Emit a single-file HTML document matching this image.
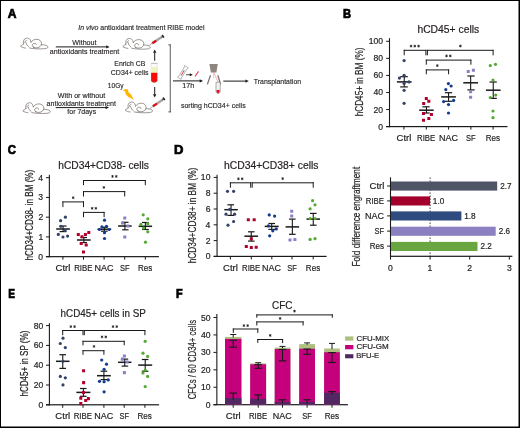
<!DOCTYPE html>
<html><head><meta charset="utf-8"><style>
html,body{margin:0;padding:0;background:#fff;}
body{width:520px;height:428px;overflow:hidden;position:relative;}
svg{position:absolute;left:0;top:0;display:block;will-change:transform;}
svg text{font-family:"Liberation Sans", sans-serif;stroke:#231f20;stroke-width:0.2px;}
svg .pa text{stroke-width:0.15px;}
svg .pl text{stroke:#000;stroke-width:0.7px;}
</style></head><body>
<svg width="520" height="428" viewBox="0 0 520 428" fill="#231f20">
<rect x="0" y="0" width="520" height="428" fill="#fff"/>
<g class="pl">
<text x="7.75" y="17.50" font-size="11.90" textLength="8.72" lengthAdjust="spacingAndGlyphs" font-weight="bold" fill="#000">A</text>
</g>
<g class="pl">
<text x="343.10" y="17.50" font-size="11.90" textLength="8.05" lengthAdjust="spacingAndGlyphs" font-weight="bold" fill="#000">B</text>
</g>
<g class="pl">
<text x="7.69" y="154.10" font-size="11.90" textLength="8.17" lengthAdjust="spacingAndGlyphs" font-weight="bold" fill="#000">C</text>
</g>
<g class="pl">
<text x="173.98" y="154.10" font-size="11.90" textLength="9.42" lengthAdjust="spacingAndGlyphs" font-weight="bold" fill="#000">D</text>
</g>
<g class="pl">
<text x="8.37" y="298.10" font-size="11.90" textLength="6.78" lengthAdjust="spacingAndGlyphs" font-weight="bold" fill="#000">E</text>
</g>
<g class="pl">
<text x="176.12" y="298.00" font-size="11.90" textLength="6.62" lengthAdjust="spacingAndGlyphs" font-weight="bold" fill="#000">F</text>
</g>
<g class="pa">
<text x="78.26" y="29.80" font-size="7.60" textLength="126.21" lengthAdjust="spacingAndGlyphs"><tspan font-style="italic">In vivo</tspan> antioxidant treatment RIBE model</text>
<text x="72.37" y="44.60" font-size="7.60" textLength="24.18" lengthAdjust="spacingAndGlyphs">Without</text>
<text x="49.80" y="53.80" font-size="7.60" textLength="69.45" lengthAdjust="spacingAndGlyphs">antioxidants treatment</text>
<rect x="55.80" y="46.40" width="50.70" height="1.00" fill="#1a1a1a"/>
<polygon points="109.60,46.90 106.20,45.20 106.20,48.60" fill="#1a1a1a"/>
<text x="114.33" y="66.20" font-size="7.60" textLength="31.03" lengthAdjust="spacingAndGlyphs">Enrich CB</text>
<text x="110.85" y="74.60" font-size="7.60" textLength="37.70" lengthAdjust="spacingAndGlyphs">CD34+ cells</text>
<text x="107.80" y="87.80" font-size="7.60" textLength="15.82" lengthAdjust="spacingAndGlyphs">10Gy</text>
<text x="57.87" y="97.50" font-size="7.60" textLength="47.28" lengthAdjust="spacingAndGlyphs">With or without</text>
<text x="46.60" y="105.50" font-size="7.60" textLength="69.35" lengthAdjust="spacingAndGlyphs">antioxidants treatment</text>
<rect x="55.70" y="107.10" width="50.20" height="1.00" fill="#1a1a1a"/>
<polygon points="109.00,107.60 105.60,105.90 105.60,109.30" fill="#1a1a1a"/>
<text x="67.30" y="114.00" font-size="7.60" textLength="28.85" lengthAdjust="spacingAndGlyphs">for 7days</text>
<text x="182.36" y="88.40" font-size="7.60" textLength="11.91" lengthAdjust="spacingAndGlyphs">17h</text>
<text x="180.91" y="108.00" font-size="7.60" textLength="64.75" lengthAdjust="spacingAndGlyphs">sorting hCD34+ cells</text>
<text x="253.85" y="83.50" font-size="7.60" textLength="47.20" lengthAdjust="spacingAndGlyphs">Transplantation</text>
</g>
<rect x="154.20" y="52.50" width="1.00" height="8.30" fill="#1a1a1a"/>
<polygon points="154.70,49.40 153.00,52.80 156.40,52.80" fill="#1a1a1a"/>
<rect x="154.20" y="87.00" width="1.00" height="7.50" fill="#1a1a1a"/>
<polygon points="154.70,97.60 153.00,94.20 156.40,94.20" fill="#1a1a1a"/>
<rect x="173.00" y="80.40" width="27.00" height="1.00" fill="#1a1a1a"/>
<polygon points="203.10,80.90 199.70,79.20 199.70,82.60" fill="#1a1a1a"/>
<rect x="223.30" y="80.60" width="22.40" height="1.00" fill="#1a1a1a"/>
<polygon points="248.80,81.10 245.40,79.40 245.40,82.80" fill="#1a1a1a"/>
<rect x="169.80" y="44.50" width="0.80" height="67.80" fill="#333"/>
<rect x="168.40" y="44.50" width="2.20" height="0.80" fill="#333"/>
<rect x="168.40" y="111.50" width="2.20" height="0.80" fill="#333"/>
<g transform="translate(19.00,36.00) scale(1.0)" fill="none" stroke="#5a504b" stroke-width="0.6" stroke-linecap="round"><path d="M4.6,8.0 C4.0,5.5 4.6,2.6 7.4,2.2 C9.6,1.9 11.4,2.8 12.0,6.2"/><path d="M5.8,6.4 C6.0,5.2 6.6,4.6 7.4,4.4"/><path d="M4.6,8.0 C3.6,8.8 2.4,9.4 1.5,10.2 C2.2,11.0 3.2,11.4 3.8,11.4 C4.6,11.8 5.6,12.1 6.6,12.1"/><path d="M7.0,6.5 C7.4,8.5 8.4,10.0 9.6,10.8"/><path d="M12.0,6.2 C13.0,4.4 15.4,3.2 17.8,3.3 C20.6,3.4 22.6,5.2 22.5,7.6 C22.4,10.0 20.4,11.6 17.8,11.8 C15.6,12.0 13.6,11.0 13.3,9.6 C13.1,8.2 14.4,7.2 15.8,7.3 C16.8,7.4 17.4,8.0 17.3,8.6"/><path d="M10.5,12.0 C14.0,12.8 20.0,13.1 25.6,12.7 C28.0,12.5 29.4,11.6 28.8,10.4 C28.0,9.2 25.0,8.7 22.6,8.7"/><circle cx="14.5" cy="11.1" r="0.5" fill="#5a504b" stroke="none"/></g>
<g transform="translate(121.30,36.30) scale(1.0)" fill="none" stroke="#5a504b" stroke-width="0.6" stroke-linecap="round"><path d="M4.6,8.0 C4.0,5.5 4.6,2.6 7.4,2.2 C9.6,1.9 11.4,2.8 12.0,6.2"/><path d="M5.8,6.4 C6.0,5.2 6.6,4.6 7.4,4.4"/><path d="M4.6,8.0 C3.6,8.8 2.4,9.4 1.5,10.2 C2.2,11.0 3.2,11.4 3.8,11.4 C4.6,11.8 5.6,12.1 6.6,12.1"/><path d="M7.0,6.5 C7.4,8.5 8.4,10.0 9.6,10.8"/><path d="M12.0,6.2 C13.0,4.4 15.4,3.2 17.8,3.3 C20.6,3.4 22.6,5.2 22.5,7.6 C22.4,10.0 20.4,11.6 17.8,11.8 C15.6,12.0 13.6,11.0 13.3,9.6 C13.1,8.2 14.4,7.2 15.8,7.3 C16.8,7.4 17.4,8.0 17.3,8.6"/><path d="M10.5,12.0 C14.0,12.8 20.0,13.1 25.6,12.7 C28.0,12.5 29.4,11.6 28.8,10.4 C28.0,9.2 25.0,8.7 22.6,8.7"/><circle cx="14.5" cy="11.1" r="0.5" fill="#5a504b" stroke="none"/></g>
<g transform="translate(21.30,100.60) scale(1.0)" fill="none" stroke="#5a504b" stroke-width="0.6" stroke-linecap="round"><path d="M4.6,8.0 C4.0,5.5 4.6,2.6 7.4,2.2 C9.6,1.9 11.4,2.8 12.0,6.2"/><path d="M5.8,6.4 C6.0,5.2 6.6,4.6 7.4,4.4"/><path d="M4.6,8.0 C3.6,8.8 2.4,9.4 1.5,10.2 C2.2,11.0 3.2,11.4 3.8,11.4 C4.6,11.8 5.6,12.1 6.6,12.1"/><path d="M7.0,6.5 C7.4,8.5 8.4,10.0 9.6,10.8"/><path d="M12.0,6.2 C13.0,4.4 15.4,3.2 17.8,3.3 C20.6,3.4 22.6,5.2 22.5,7.6 C22.4,10.0 20.4,11.6 17.8,11.8 C15.6,12.0 13.6,11.0 13.3,9.6 C13.1,8.2 14.4,7.2 15.8,7.3 C16.8,7.4 17.4,8.0 17.3,8.6"/><path d="M10.5,12.0 C14.0,12.8 20.0,13.1 25.6,12.7 C28.0,12.5 29.4,11.6 28.8,10.4 C28.0,9.2 25.0,8.7 22.6,8.7"/><circle cx="14.5" cy="11.1" r="0.5" fill="#5a504b" stroke="none"/></g>
<g transform="translate(123.60,99.90) scale(1.0)" fill="none" stroke="#5a504b" stroke-width="0.6" stroke-linecap="round"><path d="M4.6,8.0 C4.0,5.5 4.6,2.6 7.4,2.2 C9.6,1.9 11.4,2.8 12.0,6.2"/><path d="M5.8,6.4 C6.0,5.2 6.6,4.6 7.4,4.4"/><path d="M4.6,8.0 C3.6,8.8 2.4,9.4 1.5,10.2 C2.2,11.0 3.2,11.4 3.8,11.4 C4.6,11.8 5.6,12.1 6.6,12.1"/><path d="M7.0,6.5 C7.4,8.5 8.4,10.0 9.6,10.8"/><path d="M12.0,6.2 C13.0,4.4 15.4,3.2 17.8,3.3 C20.6,3.4 22.6,5.2 22.5,7.6 C22.4,10.0 20.4,11.6 17.8,11.8 C15.6,12.0 13.6,11.0 13.3,9.6 C13.1,8.2 14.4,7.2 15.8,7.3 C16.8,7.4 17.4,8.0 17.3,8.6"/><path d="M10.5,12.0 C14.0,12.8 20.0,13.1 25.6,12.7 C28.0,12.5 29.4,11.6 28.8,10.4 C28.0,9.2 25.0,8.7 22.6,8.7"/><circle cx="14.5" cy="11.1" r="0.5" fill="#5a504b" stroke="none"/></g>
<g transform="translate(149.50,45.00) rotate(-32.92)"><line x1="0" y1="0" x2="3.2" y2="0" stroke="#777" stroke-width="0.6"/><rect x="3.0" y="-1.2" width="11.59" height="2.4" fill="#aaa4a2"/><rect x="3.4" y="-1.1" width="4.64" height="2.2" rx="0.6" fill="#ee0a16"/><rect x="13.93" y="-0.6" width="1.66" height="1.2" fill="#555"/><rect x="15.25" y="-1.6" width="1.66" height="3.2" rx="0.5" fill="#2a2626"/></g>
<g transform="translate(150.20,108.20) rotate(-34.34)"><line x1="0" y1="0" x2="3.2" y2="0" stroke="#777" stroke-width="0.6"/><rect x="3.0" y="-1.2" width="12.04" height="2.4" fill="#aaa4a2"/><rect x="3.4" y="-1.1" width="4.82" height="2.2" rx="0.6" fill="#ee0a16"/><rect x="14.35" y="-0.6" width="1.72" height="1.2" fill="#555"/><rect x="15.73" y="-1.6" width="1.72" height="3.2" rx="0.5" fill="#2a2626"/></g>
<path d="M151.1,63.0 L157.3,63.0 L157.3,80.6 Q157.3,82.4 154.2,82.4 Q151.1,82.4 151.1,80.6 Z" fill="#fafafa" stroke="#c8c8c8" stroke-width="0.4"/>
<rect x="151.1" y="63.0" width="6.2" height="1.0" fill="#c4c4c4"/>
<rect x="151.3" y="67.0" width="5.8" height="5.8" fill="#eef3c0"/>
<path d="M151.1,72.7 L157.3,72.7 L157.3,80.6 Q157.3,82.4 154.2,82.4 Q151.1,82.4 151.1,80.6 Z" fill="#fb0a0a"/>
<path d="M152.4,81.0 L156.0,81.0 Q155.6,82.3 154.2,82.3 Q152.8,82.3 152.4,81.0 Z" fill="#b83010"/>
<polygon points="122.8,90.6 125.5,89.0 127.8,89.2 128.6,92.6 130.8,94.2 133.8,99.8 128.4,97.0 125.8,94.6 125.2,91.6" fill="#ffb400"/>
<g transform="translate(182.9,72.5) rotate(-58.5)">
<path d="M-6.8,-2.2 L-5.6,-1.6 L5.6,-1.6 L6.8,-2.2 L6.8,2.2 L5.6,1.6 L-5.6,1.6 L-6.8,2.2 Z" fill="#fff" stroke="#888" stroke-width="0.55"/>
<line x1="-3.4" y1="0" x2="2.6" y2="0" stroke="#f03a48" stroke-width="1.0"/>
<line x1="-5" y1="-0.9" x2="5" y2="-0.9" stroke="#bfe0e0" stroke-width="0.4"/>
<line x1="-5" y1="0.9" x2="5" y2="0.9" stroke="#bfe0e0" stroke-width="0.4"/>
</g>
<rect x="186.10" y="74.40" width="4.00" height="0.80" fill="#1a1a1a"/>
<polygon points="192.80,74.80 189.80,73.30 189.80,76.30" fill="#1a1a1a"/>
<line x1="195.00" y1="76.50" x2="198.50" y2="71.40" stroke="#f03a48" stroke-width="1.1"/>
<polygon points="209.4,64.0 217.8,64.0 216.4,72.5 210.9,72.5" fill="#8e857d"/>
<line x1="210.50" y1="75.20" x2="207.40" y2="84.40" stroke="#7d746c" stroke-width="1.3"/>
<line x1="217.80" y1="75.20" x2="220.60" y2="84.40" stroke="#7d746c" stroke-width="1.3"/>
<line x1="213.40" y1="72.50" x2="213.50" y2="78.10" stroke="#8ab0e0" stroke-width="0.5"/>
<line x1="213.80" y1="72.50" x2="218.10" y2="82.30" stroke="#f06070" stroke-width="0.5"/>
<path d="M216.0,82.3 L220.2,82.3 L220.2,91.8 Q218.1,95.6 216.0,91.8 Z" fill="#f4f4f4" stroke="#777" stroke-width="0.6"/>
<path d="M216.6,89.9 L219.6,89.9 L219.6,91.6 Q218.1,95.0 216.6,91.6 Z" fill="#ee0a16"/>
<rect x="388.95" y="38.20" width="1.10" height="89.00" fill="#1a1a1a"/>
<rect x="386.10" y="126.00" width="121.40" height="1.20" fill="#1a1a1a"/>
<rect x="386.10" y="126.10" width="3.40" height="1.00" fill="#1a1a1a"/>
<text x="378.35" y="129.60" font-size="8.60">0</text>
<rect x="386.10" y="109.04" width="3.40" height="1.00" fill="#1a1a1a"/>
<text x="373.57" y="112.54" font-size="8.60">20</text>
<rect x="386.10" y="91.98" width="3.40" height="1.00" fill="#1a1a1a"/>
<text x="373.57" y="95.48" font-size="8.60">40</text>
<rect x="386.10" y="74.92" width="3.40" height="1.00" fill="#1a1a1a"/>
<text x="373.57" y="78.42" font-size="8.60">60</text>
<rect x="386.10" y="57.86" width="3.40" height="1.00" fill="#1a1a1a"/>
<text x="373.57" y="61.36" font-size="8.60">80</text>
<rect x="386.10" y="40.80" width="3.40" height="1.00" fill="#1a1a1a"/>
<text x="368.79" y="44.30" font-size="8.60">100</text>
<rect x="403.40" y="126.60" width="1.00" height="3.00" fill="#1a1a1a"/>
<rect x="425.80" y="126.60" width="1.00" height="3.00" fill="#1a1a1a"/>
<rect x="448.10" y="126.60" width="1.00" height="3.00" fill="#1a1a1a"/>
<rect x="470.40" y="126.60" width="1.00" height="3.00" fill="#1a1a1a"/>
<rect x="492.60" y="126.60" width="1.00" height="3.00" fill="#1a1a1a"/>
<text x="396.57" y="140.50" font-size="9.60" textLength="14.82" lengthAdjust="spacingAndGlyphs">Ctrl</text>
<text x="417.01" y="140.50" font-size="9.60" textLength="18.28" lengthAdjust="spacingAndGlyphs">RIBE</text>
<text x="438.91" y="140.50" font-size="9.60" textLength="18.98" lengthAdjust="spacingAndGlyphs">NAC</text>
<text x="466.11" y="140.50" font-size="9.60" textLength="9.54" lengthAdjust="spacingAndGlyphs">SF</text>
<text x="485.74" y="140.50" font-size="9.60" textLength="14.35" lengthAdjust="spacingAndGlyphs">Res</text>
<text x="417.38" y="32.70" font-size="10.90" textLength="61.79" lengthAdjust="spacingAndGlyphs">hCD45+ cells</text>
<text x="0" y="0" font-size="10.00" textLength="68.88" lengthAdjust="spacingAndGlyphs" transform="translate(363.20,116.37) rotate(-90)">hCD45+ in BM (%)</text>
<rect x="403.70" y="49.80" width="22.70" height="1.00" fill="#1a1a1a"/>
<rect x="403.70" y="49.80" width="1.00" height="5.50" fill="#1a1a1a"/>
<rect x="425.40" y="49.80" width="1.00" height="5.50" fill="#1a1a1a"/>
<path d="M411.05,44.75L411.05,47.45M409.88,45.43L412.22,46.77M409.88,46.77L412.22,45.43" stroke="#1a1a1a" stroke-width="0.8" fill="none"/>
<path d="M414.80,44.75L414.80,47.45M413.63,45.43L415.97,46.77M413.63,46.77L415.97,45.43" stroke="#1a1a1a" stroke-width="0.8" fill="none"/>
<path d="M418.55,44.75L418.55,47.45M417.38,45.43L419.72,46.77M417.38,46.77L419.72,45.43" stroke="#1a1a1a" stroke-width="0.8" fill="none"/>
<rect x="426.90" y="49.80" width="66.70" height="1.00" fill="#1a1a1a"/>
<rect x="426.90" y="49.80" width="1.00" height="5.50" fill="#1a1a1a"/>
<rect x="492.60" y="49.80" width="1.00" height="5.50" fill="#1a1a1a"/>
<path d="M460.40,44.65L460.40,47.35M459.23,45.33L461.57,46.67M459.23,46.67L461.57,45.33" stroke="#1a1a1a" stroke-width="0.8" fill="none"/>
<rect x="425.80" y="59.60" width="45.60" height="1.00" fill="#1a1a1a"/>
<rect x="425.80" y="59.60" width="1.00" height="5.10" fill="#1a1a1a"/>
<rect x="470.40" y="59.60" width="1.00" height="5.10" fill="#1a1a1a"/>
<path d="M446.52,54.55L446.52,57.25M445.36,55.23L447.69,56.57M445.36,56.57L447.69,55.23" stroke="#1a1a1a" stroke-width="0.8" fill="none"/>
<path d="M450.27,54.55L450.27,57.25M449.11,55.23L451.44,56.57M449.11,56.57L451.44,55.23" stroke="#1a1a1a" stroke-width="0.8" fill="none"/>
<rect x="425.80" y="69.40" width="23.30" height="1.00" fill="#1a1a1a"/>
<rect x="425.80" y="69.40" width="1.00" height="4.90" fill="#1a1a1a"/>
<rect x="448.10" y="69.40" width="1.00" height="4.90" fill="#1a1a1a"/>
<path d="M437.30,64.25L437.30,66.95M436.13,64.92L438.47,66.27M436.13,66.27L438.47,64.92" stroke="#1a1a1a" stroke-width="0.8" fill="none"/>
<rect x="403.70" y="76.70" width="1.10" height="10.20" fill="#1a1a1a"/>
<rect x="400.20" y="76.10" width="7.60" height="1.20" fill="#1a1a1a"/>
<rect x="400.20" y="86.30" width="7.60" height="1.20" fill="#1a1a1a"/>
<rect x="396.90" y="81.15" width="14.70" height="1.50" fill="#1a1a1a"/>
<circle cx="404.10" cy="60.60" r="1.6" fill="#35436a"/>
<circle cx="404.10" cy="75.30" r="1.6" fill="#35436a"/>
<circle cx="399.40" cy="78.10" r="1.6" fill="#35436a"/>
<circle cx="409.00" cy="81.90" r="1.6" fill="#35436a"/>
<circle cx="404.10" cy="83.40" r="1.6" fill="#35436a"/>
<circle cx="404.10" cy="90.30" r="1.6" fill="#35436a"/>
<circle cx="404.10" cy="103.30" r="1.6" fill="#35436a"/>
<rect x="425.90" y="106.80" width="1.10" height="6.20" fill="#1a1a1a"/>
<rect x="422.40" y="106.20" width="7.30" height="1.20" fill="#1a1a1a"/>
<rect x="422.40" y="112.40" width="7.30" height="1.20" fill="#1a1a1a"/>
<rect x="419.20" y="109.45" width="14.50" height="1.50" fill="#1a1a1a"/>
<rect x="424.78" y="96.88" width="3.05" height="3.05" rx="0.3" fill="#b0002a"/>
<rect x="427.28" y="99.77" width="3.05" height="3.05" rx="0.3" fill="#b0002a"/>
<rect x="422.18" y="102.07" width="3.05" height="3.05" rx="0.3" fill="#b0002a"/>
<rect x="421.98" y="112.07" width="3.05" height="3.05" rx="0.3" fill="#b0002a"/>
<rect x="429.88" y="112.97" width="3.05" height="3.05" rx="0.3" fill="#b0002a"/>
<rect x="427.28" y="116.97" width="3.05" height="3.05" rx="0.3" fill="#b0002a"/>
<rect x="421.98" y="118.77" width="3.05" height="3.05" rx="0.3" fill="#b0002a"/>
<rect x="448.00" y="92.70" width="1.10" height="8.60" fill="#1a1a1a"/>
<rect x="444.90" y="92.10" width="7.30" height="1.20" fill="#1a1a1a"/>
<rect x="444.90" y="100.70" width="7.30" height="1.20" fill="#1a1a1a"/>
<rect x="441.20" y="96.15" width="14.70" height="1.50" fill="#1a1a1a"/>
<circle cx="448.40" cy="83.60" r="1.6" fill="#123b8c"/>
<circle cx="451.10" cy="86.00" r="1.6" fill="#123b8c"/>
<circle cx="445.80" cy="89.60" r="1.6" fill="#123b8c"/>
<circle cx="443.60" cy="101.60" r="1.6" fill="#123b8c"/>
<circle cx="453.60" cy="100.40" r="1.6" fill="#123b8c"/>
<circle cx="448.50" cy="104.60" r="1.6" fill="#123b8c"/>
<circle cx="448.50" cy="113.00" r="1.6" fill="#123b8c"/>
<rect x="470.10" y="76.00" width="1.10" height="13.90" fill="#1a1a1a"/>
<rect x="467.40" y="75.40" width="7.30" height="1.20" fill="#1a1a1a"/>
<rect x="467.40" y="89.30" width="7.30" height="1.20" fill="#1a1a1a"/>
<rect x="463.30" y="82.05" width="14.70" height="1.50" fill="#1a1a1a"/>
<rect x="466.68" y="69.88" width="3.05" height="3.05" rx="0.3" fill="#8a80c8"/>
<rect x="471.88" y="68.67" width="3.05" height="3.05" rx="0.3" fill="#8a80c8"/>
<rect x="469.08" y="90.27" width="3.05" height="3.05" rx="0.3" fill="#8a80c8"/>
<rect x="469.08" y="95.67" width="3.05" height="3.05" rx="0.3" fill="#8a80c8"/>
<rect x="492.70" y="82.00" width="1.10" height="16.40" fill="#1a1a1a"/>
<rect x="489.50" y="81.40" width="7.30" height="1.20" fill="#1a1a1a"/>
<rect x="489.50" y="97.80" width="7.30" height="1.20" fill="#1a1a1a"/>
<rect x="485.90" y="89.45" width="14.70" height="1.50" fill="#1a1a1a"/>
<circle cx="490.30" cy="65.60" r="1.6" fill="#55a832"/>
<circle cx="495.50" cy="64.30" r="1.6" fill="#55a832"/>
<circle cx="493.00" cy="80.00" r="1.6" fill="#55a832"/>
<circle cx="495.70" cy="95.10" r="1.6" fill="#55a832"/>
<circle cx="490.30" cy="97.50" r="1.6" fill="#55a832"/>
<circle cx="493.00" cy="111.00" r="1.6" fill="#55a832"/>
<circle cx="493.00" cy="117.70" r="1.6" fill="#55a832"/>
<rect x="48.80" y="174.80" width="1.10" height="82.45" fill="#1a1a1a"/>
<rect x="45.95" y="256.05" width="112.95" height="1.20" fill="#1a1a1a"/>
<rect x="45.95" y="256.15" width="3.40" height="1.00" fill="#1a1a1a"/>
<text x="38.30" y="259.65" font-size="8.60">0</text>
<rect x="45.95" y="236.41" width="3.40" height="1.00" fill="#1a1a1a"/>
<text x="38.39" y="239.91" font-size="8.60">1</text>
<rect x="45.95" y="216.67" width="3.40" height="1.00" fill="#1a1a1a"/>
<text x="38.40" y="220.17" font-size="8.60">2</text>
<rect x="45.95" y="196.93" width="3.40" height="1.00" fill="#1a1a1a"/>
<text x="38.35" y="200.43" font-size="8.60">3</text>
<rect x="45.95" y="177.19" width="3.40" height="1.00" fill="#1a1a1a"/>
<text x="38.22" y="180.69" font-size="8.60">4</text>
<rect x="62.40" y="256.65" width="1.00" height="3.00" fill="#1a1a1a"/>
<rect x="83.00" y="256.65" width="1.00" height="3.00" fill="#1a1a1a"/>
<rect x="103.60" y="256.65" width="1.00" height="3.00" fill="#1a1a1a"/>
<rect x="124.20" y="256.65" width="1.00" height="3.00" fill="#1a1a1a"/>
<rect x="144.80" y="256.65" width="1.00" height="3.00" fill="#1a1a1a"/>
<text x="55.57" y="270.50" font-size="9.60" textLength="14.82" lengthAdjust="spacingAndGlyphs">Ctrl</text>
<text x="74.21" y="270.50" font-size="9.60" textLength="18.28" lengthAdjust="spacingAndGlyphs">RIBE</text>
<text x="94.41" y="270.50" font-size="9.60" textLength="18.98" lengthAdjust="spacingAndGlyphs">NAC</text>
<text x="119.91" y="270.50" font-size="9.60" textLength="9.54" lengthAdjust="spacingAndGlyphs">SF</text>
<text x="137.94" y="270.50" font-size="9.60" textLength="14.35" lengthAdjust="spacingAndGlyphs">Res</text>
<text x="58.29" y="168.70" font-size="10.90" textLength="90.58" lengthAdjust="spacingAndGlyphs">hCD34+CD38- cells</text>
<text x="0" y="0" font-size="10.00" textLength="90.76" lengthAdjust="spacingAndGlyphs" transform="translate(32.70,260.56) rotate(-90)">hCD34+CD38- in BM (%)</text>
<rect x="62.40" y="201.40" width="21.60" height="1.00" fill="#1a1a1a"/>
<rect x="62.40" y="201.40" width="1.00" height="5.70" fill="#1a1a1a"/>
<rect x="83.00" y="201.40" width="1.00" height="5.70" fill="#1a1a1a"/>
<path d="M73.20,196.35L73.20,199.05M72.03,197.02L74.37,198.38M72.03,198.38L74.37,197.02" stroke="#1a1a1a" stroke-width="0.8" fill="none"/>
<rect x="83.00" y="211.90" width="21.60" height="1.00" fill="#1a1a1a"/>
<rect x="83.00" y="211.90" width="1.00" height="5.30" fill="#1a1a1a"/>
<rect x="103.60" y="211.90" width="1.00" height="5.30" fill="#1a1a1a"/>
<path d="M92.12,206.95L92.12,209.65M90.96,207.62L93.29,208.98M90.96,208.98L93.29,207.62" stroke="#1a1a1a" stroke-width="0.8" fill="none"/>
<path d="M95.88,206.95L95.88,209.65M94.71,207.62L97.04,208.98M94.71,208.98L97.04,207.62" stroke="#1a1a1a" stroke-width="0.8" fill="none"/>
<rect x="83.00" y="191.10" width="42.20" height="1.00" fill="#1a1a1a"/>
<rect x="83.00" y="191.10" width="1.00" height="5.40" fill="#1a1a1a"/>
<rect x="124.20" y="191.10" width="1.00" height="5.40" fill="#1a1a1a"/>
<path d="M103.90,186.05L103.90,188.75M102.73,186.72L105.07,188.08M102.73,188.08L105.07,186.72" stroke="#1a1a1a" stroke-width="0.8" fill="none"/>
<rect x="83.00" y="180.00" width="62.80" height="1.00" fill="#1a1a1a"/>
<rect x="83.00" y="180.00" width="1.00" height="5.20" fill="#1a1a1a"/>
<rect x="144.80" y="180.00" width="1.00" height="5.20" fill="#1a1a1a"/>
<path d="M112.53,175.05L112.53,177.75M111.36,175.72L113.69,177.08M111.36,177.08L113.69,175.72" stroke="#1a1a1a" stroke-width="0.8" fill="none"/>
<path d="M116.28,175.05L116.28,177.75M115.11,175.72L117.44,177.08M115.11,177.08L117.44,175.72" stroke="#1a1a1a" stroke-width="0.8" fill="none"/>
<rect x="62.50" y="226.00" width="1.10" height="5.60" fill="#1a1a1a"/>
<rect x="59.60" y="225.40" width="6.90" height="1.20" fill="#1a1a1a"/>
<rect x="59.60" y="231.00" width="6.90" height="1.20" fill="#1a1a1a"/>
<rect x="56.20" y="228.25" width="13.70" height="1.50" fill="#1a1a1a"/>
<circle cx="65.40" cy="217.20" r="1.6" fill="#35436a"/>
<circle cx="60.60" cy="220.70" r="1.6" fill="#35436a"/>
<circle cx="60.90" cy="226.30" r="1.6" fill="#35436a"/>
<circle cx="65.10" cy="230.50" r="1.6" fill="#35436a"/>
<circle cx="58.30" cy="234.40" r="1.6" fill="#35436a"/>
<circle cx="63.00" cy="237.00" r="1.6" fill="#35436a"/>
<circle cx="67.60" cy="236.10" r="1.6" fill="#35436a"/>
<rect x="83.30" y="237.50" width="1.10" height="5.10" fill="#1a1a1a"/>
<rect x="80.50" y="236.90" width="6.50" height="1.20" fill="#1a1a1a"/>
<rect x="80.50" y="242.00" width="6.50" height="1.20" fill="#1a1a1a"/>
<rect x="77.00" y="239.25" width="13.70" height="1.50" fill="#1a1a1a"/>
<rect x="87.27" y="231.07" width="3.05" height="3.05" rx="0.3" fill="#b0002a"/>
<rect x="76.77" y="232.88" width="3.05" height="3.05" rx="0.3" fill="#b0002a"/>
<rect x="83.88" y="232.88" width="3.05" height="3.05" rx="0.3" fill="#b0002a"/>
<rect x="80.47" y="235.28" width="3.05" height="3.05" rx="0.3" fill="#b0002a"/>
<rect x="79.67" y="241.88" width="3.05" height="3.05" rx="0.3" fill="#b0002a"/>
<rect x="84.67" y="243.47" width="3.05" height="3.05" rx="0.3" fill="#b0002a"/>
<rect x="81.97" y="250.57" width="3.05" height="3.05" rx="0.3" fill="#b0002a"/>
<rect x="103.80" y="227.30" width="1.10" height="3.90" fill="#1a1a1a"/>
<rect x="101.00" y="226.70" width="6.60" height="1.20" fill="#1a1a1a"/>
<rect x="101.00" y="230.60" width="6.60" height="1.20" fill="#1a1a1a"/>
<rect x="97.50" y="228.45" width="13.70" height="1.50" fill="#1a1a1a"/>
<circle cx="104.50" cy="220.20" r="1.6" fill="#123b8c"/>
<circle cx="101.90" cy="226.90" r="1.6" fill="#123b8c"/>
<circle cx="106.50" cy="226.30" r="1.6" fill="#123b8c"/>
<circle cx="99.40" cy="229.50" r="1.6" fill="#123b8c"/>
<circle cx="109.10" cy="229.50" r="1.6" fill="#123b8c"/>
<circle cx="104.50" cy="232.70" r="1.6" fill="#123b8c"/>
<circle cx="104.50" cy="238.50" r="1.6" fill="#123b8c"/>
<rect x="124.35" y="222.30" width="1.10" height="7.50" fill="#1a1a1a"/>
<rect x="122.10" y="221.70" width="6.40" height="1.20" fill="#1a1a1a"/>
<rect x="122.10" y="229.20" width="6.40" height="1.20" fill="#1a1a1a"/>
<rect x="118.10" y="225.25" width="13.60" height="1.50" fill="#1a1a1a"/>
<rect x="123.27" y="216.38" width="3.05" height="3.05" rx="0.3" fill="#8a80c8"/>
<rect x="120.97" y="221.38" width="3.05" height="3.05" rx="0.3" fill="#8a80c8"/>
<rect x="126.38" y="224.47" width="3.05" height="3.05" rx="0.3" fill="#8a80c8"/>
<rect x="123.27" y="235.57" width="3.05" height="3.05" rx="0.3" fill="#8a80c8"/>
<rect x="144.80" y="222.50" width="1.10" height="7.00" fill="#1a1a1a"/>
<rect x="142.00" y="221.90" width="6.70" height="1.20" fill="#1a1a1a"/>
<rect x="142.00" y="228.90" width="6.70" height="1.20" fill="#1a1a1a"/>
<rect x="138.60" y="225.55" width="13.50" height="1.50" fill="#1a1a1a"/>
<circle cx="143.20" cy="214.80" r="1.6" fill="#55a832"/>
<circle cx="147.80" cy="218.80" r="1.6" fill="#55a832"/>
<circle cx="140.90" cy="224.40" r="1.6" fill="#55a832"/>
<circle cx="147.80" cy="223.70" r="1.6" fill="#55a832"/>
<circle cx="143.50" cy="228.10" r="1.6" fill="#55a832"/>
<circle cx="147.80" cy="231.80" r="1.6" fill="#55a832"/>
<circle cx="145.50" cy="242.20" r="1.6" fill="#55a832"/>
<rect x="216.50" y="174.80" width="1.10" height="82.20" fill="#1a1a1a"/>
<rect x="213.65" y="255.80" width="112.95" height="1.20" fill="#1a1a1a"/>
<rect x="213.65" y="255.90" width="3.40" height="1.00" fill="#1a1a1a"/>
<text x="205.65" y="259.40" font-size="8.60">0</text>
<rect x="213.65" y="240.10" width="3.40" height="1.00" fill="#1a1a1a"/>
<text x="205.75" y="243.60" font-size="8.60">2</text>
<rect x="213.65" y="224.30" width="3.40" height="1.00" fill="#1a1a1a"/>
<text x="205.57" y="227.80" font-size="8.60">4</text>
<rect x="213.65" y="208.50" width="3.40" height="1.00" fill="#1a1a1a"/>
<text x="205.70" y="212.00" font-size="8.60">6</text>
<rect x="213.65" y="192.70" width="3.40" height="1.00" fill="#1a1a1a"/>
<text x="205.69" y="196.20" font-size="8.60">8</text>
<rect x="213.65" y="176.90" width="3.40" height="1.00" fill="#1a1a1a"/>
<text x="200.87" y="180.40" font-size="8.60">10</text>
<rect x="229.90" y="256.40" width="1.00" height="3.00" fill="#1a1a1a"/>
<rect x="250.80" y="256.40" width="1.00" height="3.00" fill="#1a1a1a"/>
<rect x="271.30" y="256.40" width="1.00" height="3.00" fill="#1a1a1a"/>
<rect x="291.50" y="256.40" width="1.00" height="3.00" fill="#1a1a1a"/>
<rect x="312.70" y="256.40" width="1.00" height="3.00" fill="#1a1a1a"/>
<text x="223.07" y="270.50" font-size="9.60" textLength="14.82" lengthAdjust="spacingAndGlyphs">Ctrl</text>
<text x="242.01" y="270.50" font-size="9.60" textLength="18.28" lengthAdjust="spacingAndGlyphs">RIBE</text>
<text x="262.11" y="270.50" font-size="9.60" textLength="18.98" lengthAdjust="spacingAndGlyphs">NAC</text>
<text x="287.21" y="270.50" font-size="9.60" textLength="9.54" lengthAdjust="spacingAndGlyphs">SF</text>
<text x="305.84" y="270.50" font-size="9.60" textLength="14.35" lengthAdjust="spacingAndGlyphs">Res</text>
<text x="224.08" y="169.00" font-size="10.90" textLength="94.39" lengthAdjust="spacingAndGlyphs">hCD34+CD38+ cells</text>
<text x="0" y="0" font-size="10.00" textLength="95.59" lengthAdjust="spacingAndGlyphs" transform="translate(196.10,263.28) rotate(-90)">hCD34+CD38+ in BM (%)</text>
<rect x="229.90" y="182.30" width="21.30" height="1.00" fill="#1a1a1a"/>
<rect x="229.90" y="182.30" width="1.00" height="5.40" fill="#1a1a1a"/>
<rect x="250.20" y="182.30" width="1.00" height="5.40" fill="#1a1a1a"/>
<path d="M238.43,177.45L238.43,180.15M237.26,178.12L239.59,179.48M237.26,179.48L239.59,178.12" stroke="#1a1a1a" stroke-width="0.8" fill="none"/>
<path d="M242.18,177.45L242.18,180.15M241.01,178.12L243.34,179.48M241.01,179.48L243.34,178.12" stroke="#1a1a1a" stroke-width="0.8" fill="none"/>
<rect x="251.70" y="182.30" width="62.00" height="1.00" fill="#1a1a1a"/>
<rect x="251.70" y="182.30" width="1.00" height="5.40" fill="#1a1a1a"/>
<rect x="312.70" y="182.30" width="1.00" height="5.40" fill="#1a1a1a"/>
<path d="M282.70,177.25L282.70,179.95M281.53,177.92L283.87,179.28M281.53,179.28L283.87,177.92" stroke="#1a1a1a" stroke-width="0.8" fill="none"/>
<rect x="230.50" y="204.80" width="1.10" height="10.60" fill="#1a1a1a"/>
<rect x="227.40" y="204.20" width="6.60" height="1.20" fill="#1a1a1a"/>
<rect x="227.40" y="214.80" width="6.60" height="1.20" fill="#1a1a1a"/>
<rect x="224.30" y="208.95" width="13.50" height="1.50" fill="#1a1a1a"/>
<circle cx="227.50" cy="191.30" r="1.6" fill="#35436a"/>
<circle cx="233.60" cy="191.30" r="1.6" fill="#35436a"/>
<circle cx="229.70" cy="209.30" r="1.6" fill="#35436a"/>
<circle cx="226.00" cy="214.20" r="1.6" fill="#35436a"/>
<circle cx="234.60" cy="214.20" r="1.6" fill="#35436a"/>
<circle cx="233.60" cy="221.50" r="1.6" fill="#35436a"/>
<circle cx="228.00" cy="225.20" r="1.6" fill="#35436a"/>
<rect x="250.70" y="231.80" width="1.10" height="9.30" fill="#1a1a1a"/>
<rect x="248.00" y="231.20" width="6.60" height="1.20" fill="#1a1a1a"/>
<rect x="248.00" y="240.50" width="6.60" height="1.20" fill="#1a1a1a"/>
<rect x="244.40" y="235.45" width="13.70" height="1.50" fill="#1a1a1a"/>
<rect x="246.78" y="218.28" width="3.05" height="3.05" rx="0.3" fill="#b0002a"/>
<rect x="252.67" y="218.28" width="3.05" height="3.05" rx="0.3" fill="#b0002a"/>
<rect x="249.78" y="237.17" width="3.05" height="3.05" rx="0.3" fill="#b0002a"/>
<rect x="244.78" y="244.97" width="3.05" height="3.05" rx="0.3" fill="#b0002a"/>
<rect x="249.78" y="245.97" width="3.05" height="3.05" rx="0.3" fill="#b0002a"/>
<rect x="254.67" y="245.78" width="3.05" height="3.05" rx="0.3" fill="#b0002a"/>
<rect x="271.15" y="223.50" width="1.10" height="5.90" fill="#1a1a1a"/>
<rect x="268.40" y="222.90" width="6.60" height="1.20" fill="#1a1a1a"/>
<rect x="268.40" y="228.80" width="6.60" height="1.20" fill="#1a1a1a"/>
<rect x="264.70" y="225.65" width="14.00" height="1.50" fill="#1a1a1a"/>
<circle cx="269.20" cy="214.90" r="1.6" fill="#123b8c"/>
<circle cx="274.60" cy="216.10" r="1.6" fill="#123b8c"/>
<circle cx="268.40" cy="225.90" r="1.6" fill="#123b8c"/>
<circle cx="276.30" cy="228.90" r="1.6" fill="#123b8c"/>
<circle cx="272.80" cy="230.80" r="1.6" fill="#123b8c"/>
<circle cx="269.70" cy="235.80" r="1.6" fill="#123b8c"/>
<rect x="291.80" y="219.10" width="1.10" height="15.20" fill="#1a1a1a"/>
<rect x="289.00" y="218.50" width="6.60" height="1.20" fill="#1a1a1a"/>
<rect x="289.00" y="233.70" width="6.60" height="1.20" fill="#1a1a1a"/>
<rect x="285.60" y="226.15" width="13.50" height="1.50" fill="#1a1a1a"/>
<rect x="290.18" y="209.67" width="3.05" height="3.05" rx="0.3" fill="#8a80c8"/>
<rect x="290.18" y="214.57" width="3.05" height="3.05" rx="0.3" fill="#8a80c8"/>
<rect x="288.48" y="238.38" width="3.05" height="3.05" rx="0.3" fill="#8a80c8"/>
<rect x="293.38" y="237.88" width="3.05" height="3.05" rx="0.3" fill="#8a80c8"/>
<rect x="312.70" y="213.40" width="1.10" height="11.80" fill="#1a1a1a"/>
<rect x="310.00" y="212.80" width="6.60" height="1.20" fill="#1a1a1a"/>
<rect x="310.00" y="224.60" width="6.60" height="1.20" fill="#1a1a1a"/>
<rect x="306.50" y="218.35" width="13.50" height="1.50" fill="#1a1a1a"/>
<circle cx="312.60" cy="200.70" r="1.6" fill="#55a832"/>
<circle cx="315.00" cy="204.80" r="1.6" fill="#55a832"/>
<circle cx="310.10" cy="208.80" r="1.6" fill="#55a832"/>
<circle cx="310.10" cy="218.60" r="1.6" fill="#55a832"/>
<circle cx="315.00" cy="218.60" r="1.6" fill="#55a832"/>
<circle cx="310.10" cy="239.40" r="1.6" fill="#55a832"/>
<circle cx="315.00" cy="238.70" r="1.6" fill="#55a832"/>
<rect x="48.85" y="323.20" width="1.10" height="82.20" fill="#1a1a1a"/>
<rect x="46.00" y="404.20" width="113.10" height="1.20" fill="#1a1a1a"/>
<rect x="46.00" y="404.30" width="3.40" height="1.00" fill="#1a1a1a"/>
<text x="38.45" y="407.80" font-size="8.60">0</text>
<rect x="46.00" y="384.50" width="3.40" height="1.00" fill="#1a1a1a"/>
<text x="33.67" y="388.00" font-size="8.60">20</text>
<rect x="46.00" y="364.70" width="3.40" height="1.00" fill="#1a1a1a"/>
<text x="33.67" y="368.20" font-size="8.60">40</text>
<rect x="46.00" y="344.90" width="3.40" height="1.00" fill="#1a1a1a"/>
<text x="33.67" y="348.40" font-size="8.60">60</text>
<rect x="46.00" y="325.10" width="3.40" height="1.00" fill="#1a1a1a"/>
<text x="33.67" y="328.60" font-size="8.60">80</text>
<rect x="62.20" y="404.80" width="1.00" height="3.00" fill="#1a1a1a"/>
<rect x="82.50" y="404.80" width="1.00" height="3.00" fill="#1a1a1a"/>
<rect x="103.40" y="404.80" width="1.00" height="3.00" fill="#1a1a1a"/>
<rect x="123.70" y="404.80" width="1.00" height="3.00" fill="#1a1a1a"/>
<rect x="144.40" y="404.80" width="1.00" height="3.00" fill="#1a1a1a"/>
<text x="55.37" y="418.50" font-size="9.60" textLength="14.82" lengthAdjust="spacingAndGlyphs">Ctrl</text>
<text x="73.71" y="418.50" font-size="9.60" textLength="18.28" lengthAdjust="spacingAndGlyphs">RIBE</text>
<text x="94.21" y="418.50" font-size="9.60" textLength="18.98" lengthAdjust="spacingAndGlyphs">NAC</text>
<text x="119.41" y="418.50" font-size="9.60" textLength="9.54" lengthAdjust="spacingAndGlyphs">SF</text>
<text x="137.54" y="418.50" font-size="9.60" textLength="14.35" lengthAdjust="spacingAndGlyphs">Res</text>
<text x="60.51" y="317.00" font-size="10.90" textLength="85.41" lengthAdjust="spacingAndGlyphs">hCD45+ cells in SP</text>
<text x="0" y="0" font-size="10.00" textLength="65.96" lengthAdjust="spacingAndGlyphs" transform="translate(27.60,396.56) rotate(-90)">hCD45+ in SP (%)</text>
<rect x="62.20" y="330.00" width="21.30" height="1.00" fill="#1a1a1a"/>
<rect x="62.20" y="330.00" width="1.00" height="5.20" fill="#1a1a1a"/>
<rect x="82.50" y="330.00" width="1.00" height="5.20" fill="#1a1a1a"/>
<path d="M70.83,325.25L70.83,327.95M69.66,325.93L71.99,327.28M69.66,327.28L71.99,325.93" stroke="#1a1a1a" stroke-width="0.8" fill="none"/>
<path d="M74.58,325.25L74.58,327.95M73.41,325.93L75.74,327.28M73.41,327.28L75.74,325.93" stroke="#1a1a1a" stroke-width="0.8" fill="none"/>
<rect x="83.80" y="330.00" width="61.60" height="1.00" fill="#1a1a1a"/>
<rect x="83.80" y="330.00" width="1.00" height="5.20" fill="#1a1a1a"/>
<rect x="144.40" y="330.00" width="1.00" height="5.20" fill="#1a1a1a"/>
<path d="M113.03,325.25L113.03,327.95M111.86,325.93L114.19,327.28M111.86,327.28L114.19,325.93" stroke="#1a1a1a" stroke-width="0.8" fill="none"/>
<path d="M116.78,325.25L116.78,327.95M115.61,325.93L117.94,327.28M115.61,327.28L117.94,325.93" stroke="#1a1a1a" stroke-width="0.8" fill="none"/>
<rect x="82.50" y="340.80" width="42.20" height="1.00" fill="#1a1a1a"/>
<rect x="82.50" y="340.80" width="1.00" height="4.50" fill="#1a1a1a"/>
<rect x="123.70" y="340.80" width="1.00" height="4.50" fill="#1a1a1a"/>
<path d="M102.03,335.55L102.03,338.25M100.86,336.22L103.19,337.57M100.86,337.57L103.19,336.22" stroke="#1a1a1a" stroke-width="0.8" fill="none"/>
<path d="M105.78,335.55L105.78,338.25M104.61,336.22L106.94,337.57M104.61,337.57L106.94,336.22" stroke="#1a1a1a" stroke-width="0.8" fill="none"/>
<rect x="82.50" y="350.20" width="21.90" height="1.00" fill="#1a1a1a"/>
<rect x="82.50" y="350.20" width="1.00" height="4.60" fill="#1a1a1a"/>
<rect x="103.40" y="350.20" width="1.00" height="4.60" fill="#1a1a1a"/>
<path d="M94.00,345.05L94.00,347.75M92.83,345.72L95.17,347.07M92.83,347.07L95.17,345.72" stroke="#1a1a1a" stroke-width="0.8" fill="none"/>
<rect x="62.20" y="354.70" width="1.10" height="13.70" fill="#1a1a1a"/>
<rect x="59.40" y="354.10" width="6.60" height="1.20" fill="#1a1a1a"/>
<rect x="59.40" y="367.80" width="6.60" height="1.20" fill="#1a1a1a"/>
<rect x="56.00" y="360.55" width="13.50" height="1.50" fill="#1a1a1a"/>
<circle cx="63.00" cy="338.20" r="1.6" fill="#35436a"/>
<circle cx="60.30" cy="343.50" r="1.6" fill="#35436a"/>
<circle cx="65.30" cy="347.60" r="1.6" fill="#35436a"/>
<circle cx="63.00" cy="361.30" r="1.6" fill="#35436a"/>
<circle cx="60.30" cy="376.40" r="1.6" fill="#35436a"/>
<circle cx="65.30" cy="377.80" r="1.6" fill="#35436a"/>
<circle cx="63.00" cy="384.90" r="1.6" fill="#35436a"/>
<rect x="82.85" y="388.50" width="1.10" height="7.80" fill="#1a1a1a"/>
<rect x="80.00" y="387.90" width="6.60" height="1.20" fill="#1a1a1a"/>
<rect x="80.00" y="395.70" width="6.60" height="1.20" fill="#1a1a1a"/>
<rect x="76.40" y="391.65" width="14.00" height="1.50" fill="#1a1a1a"/>
<rect x="82.07" y="369.18" width="3.05" height="3.05" rx="0.3" fill="#b0002a"/>
<rect x="82.07" y="381.08" width="3.05" height="3.05" rx="0.3" fill="#b0002a"/>
<rect x="82.07" y="390.88" width="3.05" height="3.05" rx="0.3" fill="#b0002a"/>
<rect x="79.27" y="396.58" width="3.05" height="3.05" rx="0.3" fill="#b0002a"/>
<rect x="84.17" y="398.88" width="3.05" height="3.05" rx="0.3" fill="#b0002a"/>
<rect x="86.88" y="397.08" width="3.05" height="3.05" rx="0.3" fill="#b0002a"/>
<rect x="79.27" y="402.08" width="3.05" height="3.05" rx="0.3" fill="#b0002a"/>
<rect x="103.35" y="371.20" width="1.10" height="8.40" fill="#1a1a1a"/>
<rect x="100.60" y="370.60" width="6.60" height="1.20" fill="#1a1a1a"/>
<rect x="100.60" y="379.00" width="6.60" height="1.20" fill="#1a1a1a"/>
<rect x="97.00" y="374.95" width="13.80" height="1.50" fill="#1a1a1a"/>
<circle cx="101.70" cy="360.00" r="1.6" fill="#123b8c"/>
<circle cx="106.50" cy="364.20" r="1.6" fill="#123b8c"/>
<circle cx="104.10" cy="369.30" r="1.6" fill="#123b8c"/>
<circle cx="99.50" cy="381.30" r="1.6" fill="#123b8c"/>
<circle cx="104.10" cy="381.70" r="1.6" fill="#123b8c"/>
<circle cx="108.30" cy="379.90" r="1.6" fill="#123b8c"/>
<circle cx="104.10" cy="391.80" r="1.6" fill="#123b8c"/>
<rect x="124.20" y="359.10" width="1.10" height="7.00" fill="#1a1a1a"/>
<rect x="121.60" y="358.50" width="6.60" height="1.20" fill="#1a1a1a"/>
<rect x="121.60" y="365.50" width="6.60" height="1.20" fill="#1a1a1a"/>
<rect x="118.10" y="361.55" width="13.30" height="1.50" fill="#1a1a1a"/>
<rect x="122.88" y="354.48" width="3.05" height="3.05" rx="0.3" fill="#8a80c8"/>
<rect x="120.77" y="357.58" width="3.05" height="3.05" rx="0.3" fill="#8a80c8"/>
<rect x="125.47" y="360.38" width="3.05" height="3.05" rx="0.3" fill="#8a80c8"/>
<rect x="122.88" y="371.08" width="3.05" height="3.05" rx="0.3" fill="#8a80c8"/>
<rect x="144.65" y="359.50" width="1.10" height="11.70" fill="#1a1a1a"/>
<rect x="141.80" y="358.90" width="6.60" height="1.20" fill="#1a1a1a"/>
<rect x="141.80" y="370.60" width="6.60" height="1.20" fill="#1a1a1a"/>
<rect x="138.20" y="364.35" width="14.00" height="1.50" fill="#1a1a1a"/>
<circle cx="145.20" cy="341.30" r="1.6" fill="#55a832"/>
<circle cx="143.00" cy="353.20" r="1.6" fill="#55a832"/>
<circle cx="147.60" cy="356.40" r="1.6" fill="#55a832"/>
<circle cx="145.20" cy="370.00" r="1.6" fill="#55a832"/>
<circle cx="143.00" cy="372.90" r="1.6" fill="#55a832"/>
<circle cx="147.60" cy="376.40" r="1.6" fill="#55a832"/>
<circle cx="145.20" cy="386.60" r="1.6" fill="#55a832"/>
<rect x="389.95" y="177.30" width="1.10" height="79.60" fill="#1a1a1a"/>
<rect x="390.00" y="255.70" width="122.40" height="1.20" fill="#1a1a1a"/>
<line x1="430.1" y1="177.5" x2="430.1" y2="256.3" stroke="#1a1a1a" stroke-width="0.9" stroke-dasharray="1.4,1.6"/>
<rect x="391.00" y="181.50" width="106.20" height="9.10" fill="#4f5466"/>
<rect x="387.10" y="185.50" width="3.40" height="1.00" fill="#1a1a1a"/>
<text x="369.52" y="188.70" font-size="9.60" textLength="14.82" lengthAdjust="spacingAndGlyphs">Ctrl</text>
<text x="500.19" y="188.50" font-size="8.60" textLength="11.32" lengthAdjust="spacingAndGlyphs">2.7</text>
<rect x="391.00" y="196.40" width="39.10" height="9.10" fill="#a3002b"/>
<rect x="387.10" y="200.40" width="3.40" height="1.00" fill="#1a1a1a"/>
<text x="365.76" y="203.80" font-size="9.60" textLength="18.28" lengthAdjust="spacingAndGlyphs">RIBE</text>
<text x="432.87" y="203.60" font-size="8.60" textLength="11.45" lengthAdjust="spacingAndGlyphs">1.0</text>
<rect x="391.00" y="211.40" width="70.40" height="9.10" fill="#2f4b7f"/>
<rect x="387.10" y="215.40" width="3.40" height="1.00" fill="#1a1a1a"/>
<text x="365.06" y="218.90" font-size="9.60" textLength="18.98" lengthAdjust="spacingAndGlyphs">NAC</text>
<text x="464.17" y="218.70" font-size="8.60" textLength="11.49" lengthAdjust="spacingAndGlyphs">1.8</text>
<rect x="391.00" y="226.70" width="104.70" height="9.10" fill="#8c80c0"/>
<rect x="387.10" y="230.60" width="3.40" height="1.00" fill="#1a1a1a"/>
<text x="374.46" y="234.00" font-size="9.60" textLength="9.54" lengthAdjust="spacingAndGlyphs">SF</text>
<text x="498.69" y="233.80" font-size="8.60" textLength="11.26" lengthAdjust="spacingAndGlyphs">2.6</text>
<rect x="391.00" y="241.90" width="86.50" height="9.10" fill="#69a641"/>
<rect x="387.10" y="245.60" width="3.40" height="1.00" fill="#1a1a1a"/>
<text x="369.64" y="248.70" font-size="9.60" textLength="14.35" lengthAdjust="spacingAndGlyphs">Res</text>
<text x="480.49" y="248.50" font-size="8.60" textLength="11.32" lengthAdjust="spacingAndGlyphs">2.2</text>
<rect x="390.00" y="256.30" width="1.00" height="3.30" fill="#1a1a1a"/>
<text x="388.11" y="270.80" font-size="8.60">0</text>
<rect x="429.60" y="256.30" width="1.00" height="3.30" fill="#1a1a1a"/>
<text x="427.59" y="270.80" font-size="8.60">1</text>
<rect x="469.20" y="256.30" width="1.00" height="3.30" fill="#1a1a1a"/>
<text x="467.31" y="270.80" font-size="8.60">2</text>
<rect x="508.80" y="256.30" width="1.00" height="3.30" fill="#1a1a1a"/>
<text x="506.93" y="270.80" font-size="8.60">3</text>
<text x="0" y="0" font-size="10.00" textLength="99.63" lengthAdjust="spacingAndGlyphs" transform="translate(360.40,266.47) rotate(-90)">Fold difference engraftment</text>
<rect x="216.30" y="314.00" width="1.10" height="91.00" fill="#1a1a1a"/>
<rect x="213.45" y="404.10" width="134.45" height="1.20" fill="#1a1a1a"/>
<rect x="213.45" y="404.20" width="3.40" height="1.00" fill="#1a1a1a"/>
<text x="205.75" y="407.70" font-size="8.60">0</text>
<rect x="213.45" y="386.76" width="3.40" height="1.00" fill="#1a1a1a"/>
<text x="200.97" y="390.26" font-size="8.60">10</text>
<rect x="213.45" y="369.32" width="3.40" height="1.00" fill="#1a1a1a"/>
<text x="200.97" y="372.82" font-size="8.60">20</text>
<rect x="213.45" y="351.88" width="3.40" height="1.00" fill="#1a1a1a"/>
<text x="200.97" y="355.38" font-size="8.60">30</text>
<rect x="213.45" y="334.44" width="3.40" height="1.00" fill="#1a1a1a"/>
<text x="200.97" y="337.94" font-size="8.60">40</text>
<rect x="213.45" y="317.00" width="3.40" height="1.00" fill="#1a1a1a"/>
<text x="200.97" y="320.50" font-size="8.60">50</text>
<text x="271.99" y="308.80" font-size="10.90" textLength="20.49" lengthAdjust="spacingAndGlyphs">CFC</text>
<text x="0" y="0" font-size="10.00" textLength="79.38" lengthAdjust="spacingAndGlyphs" transform="translate(195.80,399.30) rotate(-90)">CFCs / 60 CD34+ cells</text>
<rect x="225.00" y="336.90" width="16.40" height="67.80" fill="#adc080"/>
<rect x="225.00" y="338.90" width="16.40" height="65.80" fill="#c4007c"/>
<rect x="225.00" y="398.10" width="16.40" height="6.60" fill="#512862"/>
<rect x="232.70" y="334.50" width="1.00" height="3.00" fill="#1a1a1a"/>
<rect x="230.20" y="334.00" width="6.00" height="1.00" fill="#1a1a1a"/>
<rect x="232.65" y="339.90" width="1.10" height="7.30" fill="#1a1a1a"/>
<rect x="229.40" y="339.75" width="7.60" height="1.10" fill="#1a1a1a"/>
<rect x="229.40" y="346.65" width="7.60" height="1.10" fill="#1a1a1a"/>
<rect x="232.65" y="393.10" width="1.10" height="6.50" fill="#1a1a1a"/>
<rect x="229.40" y="392.55" width="7.60" height="1.10" fill="#1a1a1a"/>
<rect x="232.70" y="404.70" width="1.00" height="3.00" fill="#1a1a1a"/>
<rect x="250.20" y="363.40" width="15.90" height="41.30" fill="#adc080"/>
<rect x="250.20" y="364.30" width="15.90" height="40.40" fill="#c4007c"/>
<rect x="250.20" y="398.90" width="15.90" height="5.80" fill="#512862"/>
<rect x="257.70" y="362.70" width="1.00" height="1.30" fill="#1a1a1a"/>
<rect x="255.20" y="362.20" width="6.00" height="1.00" fill="#1a1a1a"/>
<rect x="257.65" y="364.30" width="1.10" height="4.00" fill="#1a1a1a"/>
<rect x="254.40" y="364.15" width="7.60" height="1.10" fill="#1a1a1a"/>
<rect x="254.40" y="367.75" width="7.60" height="1.10" fill="#1a1a1a"/>
<rect x="257.65" y="394.90" width="1.10" height="5.50" fill="#1a1a1a"/>
<rect x="254.40" y="394.35" width="7.60" height="1.10" fill="#1a1a1a"/>
<rect x="257.70" y="404.70" width="1.00" height="3.00" fill="#1a1a1a"/>
<rect x="274.70" y="347.60" width="15.70" height="57.10" fill="#adc080"/>
<rect x="274.70" y="349.00" width="15.70" height="55.70" fill="#c4007c"/>
<rect x="274.70" y="401.90" width="15.70" height="2.80" fill="#512862"/>
<rect x="282.00" y="346.40" width="1.00" height="1.80" fill="#1a1a1a"/>
<rect x="279.50" y="345.90" width="6.00" height="1.00" fill="#1a1a1a"/>
<rect x="281.95" y="349.00" width="1.10" height="11.90" fill="#1a1a1a"/>
<rect x="278.70" y="348.85" width="7.60" height="1.10" fill="#1a1a1a"/>
<rect x="278.70" y="360.35" width="7.60" height="1.10" fill="#1a1a1a"/>
<rect x="281.95" y="399.80" width="1.10" height="3.60" fill="#1a1a1a"/>
<rect x="278.70" y="399.25" width="7.60" height="1.10" fill="#1a1a1a"/>
<rect x="282.00" y="404.70" width="1.00" height="3.00" fill="#1a1a1a"/>
<rect x="299.20" y="344.10" width="15.80" height="60.60" fill="#adc080"/>
<rect x="299.20" y="348.70" width="15.80" height="56.00" fill="#c4007c"/>
<rect x="299.20" y="401.90" width="15.80" height="2.80" fill="#512862"/>
<rect x="306.60" y="342.90" width="1.00" height="1.80" fill="#1a1a1a"/>
<rect x="304.10" y="342.40" width="6.00" height="1.00" fill="#1a1a1a"/>
<rect x="306.55" y="348.70" width="1.10" height="5.60" fill="#1a1a1a"/>
<rect x="303.30" y="348.55" width="7.60" height="1.10" fill="#1a1a1a"/>
<rect x="303.30" y="353.75" width="7.60" height="1.10" fill="#1a1a1a"/>
<rect x="306.55" y="399.80" width="1.10" height="3.60" fill="#1a1a1a"/>
<rect x="303.30" y="399.25" width="7.60" height="1.10" fill="#1a1a1a"/>
<rect x="306.60" y="404.70" width="1.00" height="3.00" fill="#1a1a1a"/>
<rect x="324.10" y="348.50" width="15.70" height="56.20" fill="#adc080"/>
<rect x="324.10" y="352.20" width="15.70" height="52.50" fill="#c4007c"/>
<rect x="324.10" y="392.80" width="15.70" height="11.90" fill="#512862"/>
<rect x="331.50" y="343.40" width="1.00" height="5.70" fill="#1a1a1a"/>
<rect x="329.00" y="342.90" width="6.00" height="1.00" fill="#1a1a1a"/>
<rect x="331.45" y="352.20" width="1.10" height="10.30" fill="#1a1a1a"/>
<rect x="328.20" y="352.05" width="7.60" height="1.10" fill="#1a1a1a"/>
<rect x="328.20" y="361.95" width="7.60" height="1.10" fill="#1a1a1a"/>
<rect x="331.45" y="391.60" width="1.10" height="2.70" fill="#1a1a1a"/>
<rect x="328.20" y="391.05" width="7.60" height="1.10" fill="#1a1a1a"/>
<rect x="331.50" y="404.70" width="1.00" height="3.00" fill="#1a1a1a"/>
<text x="225.87" y="418.70" font-size="9.60" textLength="14.82" lengthAdjust="spacingAndGlyphs">Ctrl</text>
<text x="248.91" y="418.70" font-size="9.60" textLength="18.28" lengthAdjust="spacingAndGlyphs">RIBE</text>
<text x="272.81" y="418.70" font-size="9.60" textLength="18.98" lengthAdjust="spacingAndGlyphs">NAC</text>
<text x="302.31" y="418.70" font-size="9.60" textLength="9.54" lengthAdjust="spacingAndGlyphs">SF</text>
<text x="324.64" y="418.70" font-size="9.60" textLength="14.35" lengthAdjust="spacingAndGlyphs">Res</text>
<rect x="232.80" y="328.50" width="25.50" height="1.00" fill="#1a1a1a"/>
<rect x="232.80" y="328.50" width="1.00" height="4.40" fill="#1a1a1a"/>
<rect x="257.30" y="328.50" width="1.00" height="4.40" fill="#1a1a1a"/>
<path d="M243.93,324.25L243.93,326.95M242.76,324.93L245.09,326.28M242.76,326.28L245.09,324.93" stroke="#1a1a1a" stroke-width="0.8" fill="none"/>
<path d="M247.68,324.25L247.68,326.95M246.51,324.93L248.84,326.28M246.51,326.28L248.84,324.93" stroke="#1a1a1a" stroke-width="0.8" fill="none"/>
<rect x="257.30" y="339.00" width="25.80" height="1.00" fill="#1a1a1a"/>
<rect x="257.30" y="339.00" width="1.00" height="3.90" fill="#1a1a1a"/>
<rect x="282.10" y="339.00" width="1.00" height="4.10" fill="#1a1a1a"/>
<path d="M270.20,334.05L270.20,336.75M269.03,334.72L271.37,336.07M269.03,336.07L271.37,334.72" stroke="#1a1a1a" stroke-width="0.8" fill="none"/>
<rect x="256.30" y="321.40" width="47.30" height="1.00" fill="#1a1a1a"/>
<rect x="256.30" y="321.40" width="1.00" height="4.10" fill="#1a1a1a"/>
<rect x="302.60" y="321.40" width="1.00" height="4.10" fill="#1a1a1a"/>
<path d="M280.10,317.05L280.10,319.75M278.93,317.72L281.27,319.07M278.93,319.07L281.27,317.72" stroke="#1a1a1a" stroke-width="0.8" fill="none"/>
<rect x="256.30" y="314.40" width="76.50" height="1.00" fill="#1a1a1a"/>
<rect x="256.30" y="314.40" width="1.00" height="3.30" fill="#1a1a1a"/>
<rect x="331.80" y="314.40" width="1.00" height="3.30" fill="#1a1a1a"/>
<path d="M294.50,309.75L294.50,312.45M293.33,310.43L295.67,311.78M293.33,311.78L295.67,310.43" stroke="#1a1a1a" stroke-width="0.8" fill="none"/>
<rect x="345.10" y="336.40" width="8.30" height="4.30" fill="#adc080"/>
<text x="356.50" y="340.70" font-size="8.00" textLength="32.66" lengthAdjust="spacingAndGlyphs">CFU-MIX</text>
<rect x="345.10" y="345.00" width="8.30" height="4.30" fill="#c4007c"/>
<text x="356.49" y="349.30" font-size="8.00" textLength="32.17" lengthAdjust="spacingAndGlyphs">CFU-GM</text>
<rect x="345.10" y="354.20" width="8.30" height="4.10" fill="#512862"/>
<text x="356.28" y="358.40" font-size="8.00" textLength="22.85" lengthAdjust="spacingAndGlyphs">BFU-E</text>
<rect x="0" y="0" width="520" height="1" fill="#000"/>
<rect x="0" y="0" width="1" height="428" fill="#000"/>
<rect x="518.5" y="0" width="1.5" height="428" fill="#000"/>
<rect x="0" y="426.5" width="520" height="1.5" fill="#000"/>
</svg>
</body></html>
